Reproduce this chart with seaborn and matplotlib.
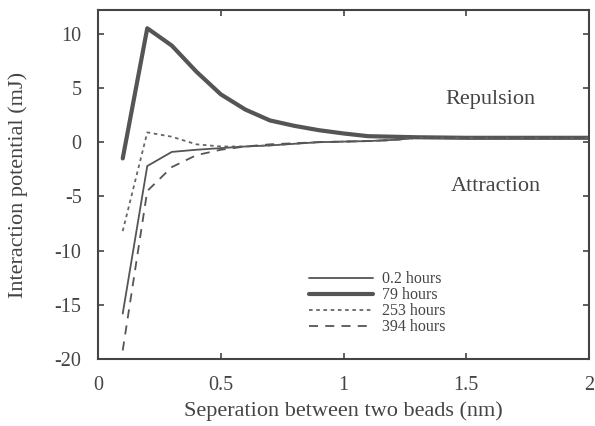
import numpy as np
import pandas as pd
import seaborn as sns
import matplotlib
matplotlib.use("Agg")
import matplotlib.pyplot as plt

# Data
x_sep = [0.1, 0.2, 0.3, 0.4, 0.5, 0.6, 0.7, 0.8, 0.9, 1.0, 1.1, 1.2, 1.3, 1.5, 2.0]
h_0_2 = [-15.8, -2.2, -0.9, -0.7, -0.55, -0.4, -0.3, -0.15, 0.0, 0.05, 0.1, 0.2, 0.4, 0.4, 0.4]
h_79 = [-1.5, 10.5, 8.9, 6.5, 4.4, 3.0, 2.0, 1.5, 1.1, 0.8, 0.55, 0.5, 0.45, 0.4, 0.4]
h_253 = [-8.2, 0.9, 0.5, -0.2, -0.4, -0.4, -0.3, -0.15, 0.0, 0.05, 0.1, 0.2, 0.4, 0.4, 0.4]
h_394 = [-19.2, -4.5, -2.3, -1.2, -0.7, -0.4, -0.2, -0.1, 0.0, 0.05, 0.1, 0.2, 0.4, 0.4, 0.4]
labels = ["0.2 hours", "79 hours", "253 hours", "394 hours"]
series = [h_0_2, h_79, h_253, h_394]

df = pd.concat([pd.DataFrame({"x": x_sep, "y": s, "series": lab}) for lab, s in zip(labels, series)])

sns.set_style("ticks")
plt.rcParams["font.family"] = ["Liberation Serif", "DejaVu Serif"]
plt.rcParams["axes.unicode_minus"] = False

fig = plt.figure(figsize=(5.95, 4.26), dpi=100)
ax = fig.add_axes([0.165, 0.157, 0.825, 0.820])

styles = {
    "0.2 hours": dict(lw=1.3, ls="-", color="#555555"),
    "79 hours": dict(lw=3.0, ls="-", color="#555555"),
    "253 hours": dict(lw=1.3, ls=(0, (2, 2)), color="#666666"),
    "394 hours": dict(lw=1.3, ls=(0, (5, 4)), color="#555555"),
}
for lab in labels:
    sub = df[df["series"] == lab]
    st = styles[lab]
    sns.lineplot(data=sub, x="x", y="y", ax=ax, color=st["color"], linewidth=st["lw"],
                 linestyle=st["ls"], label=lab, sort=False)

ax.set_xlim(0, 2)
ax.set_ylim(-20, 12.2)
ax.set_xticks([0, 0.5, 1, 1.5, 2])
ax.set_xticklabels(["0", "0.5", "1", "1.5", "2"])
ax.set_yticks([-20, -15, -10, -5, 0, 5, 10])
ax.tick_params(direction="in", length=4, width=1.2, top=True, right=True,
               labelsize=14.5, colors="#444444")
ax.tick_params(axis="x", pad=12)
ax.tick_params(axis="y", pad=12)
for sp in ax.spines.values():
    sp.set_linewidth(1.5)
    sp.set_color("#444444")

ax.set_xlabel("Seperation between two beads (nm)", fontsize=16, color="#444444", labelpad=5)
ax.set_ylabel("Interaction potential (mJ)", fontsize=16, color="#444444", labelpad=19)

ax.text(1.60, 3.9, "Repulsion", fontsize=16, color="#444444", ha="center", va="center")
ax.text(1.62, -4.1, "Attraction", fontsize=16, color="#444444", ha="center", va="center")

leg = ax.legend(loc="lower left", bbox_to_anchor=(0.417, 0.05), frameon=False, fontsize=11.5,
                handlelength=4.0, handletextpad=0.55, labelspacing=0.0, borderaxespad=0)
for t in leg.get_texts():
    t.set_color("#444444")

fig.savefig("out.png", dpi=100)
